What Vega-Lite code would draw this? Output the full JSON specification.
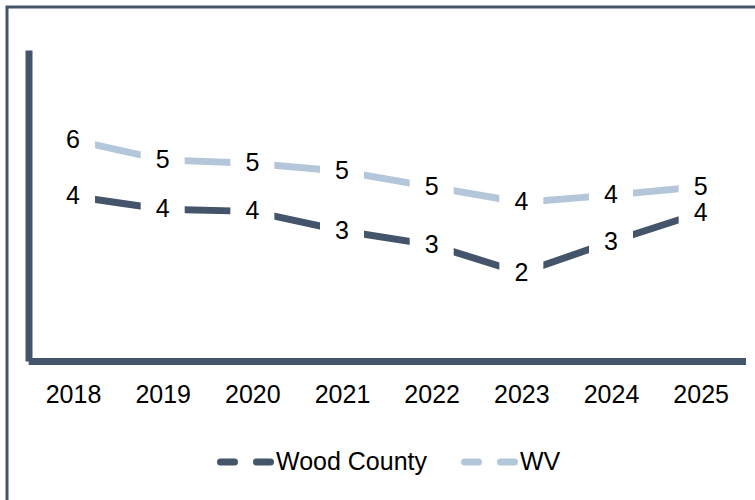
{
  "$schema": "https://vega.github.io/schema/vega-lite/v6.json",
  "width": 760,
  "height": 500,
  "autosize": {"type": "none"},
  "padding": {"left": 7, "top": 7, "right": 0, "bottom": 0},
  "background": "white",
  "config": {
    "view": {"stroke": "#44546A", "strokeWidth": 3, "fill": "white"},
    "font": "Liberation Sans"
  },
  "data": {
    "values": [
      {"year": "2018", "series": "Wood County", "value": 4.77, "label": "4"},
      {"year": "2019", "series": "Wood County", "value": 4.39, "label": "4"},
      {"year": "2020", "series": "Wood County", "value": 4.33, "label": "4"},
      {"year": "2021", "series": "Wood County", "value": 3.77, "label": "3"},
      {"year": "2022", "series": "Wood County", "value": 3.36, "label": "3"},
      {"year": "2023", "series": "Wood County", "value": 2.55, "label": "2"},
      {"year": "2024", "series": "Wood County", "value": 3.45, "label": "3"},
      {"year": "2025", "series": "Wood County", "value": 4.29, "label": "4"},
      {"year": "2018", "series": "WV", "value": 6.40, "label": "6"},
      {"year": "2019", "series": "WV", "value": 5.82, "label": "5"},
      {"year": "2020", "series": "WV", "value": 5.72, "label": "5"},
      {"year": "2021", "series": "WV", "value": 5.49, "label": "5"},
      {"year": "2022", "series": "WV", "value": 5.04, "label": "5"},
      {"year": "2023", "series": "WV", "value": 4.59, "label": "4"},
      {"year": "2024", "series": "WV", "value": 4.80, "label": "4"},
      {"year": "2025", "series": "WV", "value": 5.04, "label": "5"}
    ]
  },
  "encoding": {
    "x": {
      "field": "year",
      "type": "ordinal",
      "scale": {"type": "point", "range": [21.2, 738.5], "padding": 0.5},
      "axis": {
        "orient": "bottom",
        "offset": -146,
        "ticks": false,
        "grid": false,
        "title": null,
        "domainColor": "#44546A",
        "domainWidth": 7,
        "labelFontSize": 25,
        "labelColor": "black",
        "labelFont": "Liberation Sans",
        "labelPadding": 21,
        "labelAngle": 0
      }
    },
    "y": {
      "field": "value",
      "type": "quantitative",
      "scale": {"domain": [0, 9], "range": [354, 43], "nice": false},
      "axis": {
        "orient": "left",
        "offset": -21.5,
        "labels": false,
        "ticks": false,
        "grid": false,
        "title": null,
        "domainColor": "#44546A",
        "domainWidth": 7
      }
    }
  },
  "layer": [
    {
      "mark": {"type": "line", "strokeWidth": 7, "strokeCap": "butt"},
      "encoding": {
        "color": {
          "field": "series",
          "type": "nominal",
          "scale": {"domain": ["Wood County", "WV"], "range": ["#44546A", "#B4C7DA"]},
          "legend": {
            "orient": "none",
            "legendX": 210,
            "legendY": 426,
            "direction": "horizontal",
            "title": null,
            "symbolType": "stroke",
            "symbolSize": 2601,
            "symbolStrokeWidth": 7,
            "symbolDash": [14, 22],
            "labelFontSize": 25,
            "labelColor": "black",
            "labelFont": "Liberation Sans",
            "labelOffset": 1,
            "columnPadding": 22,
            "labelLimit": 400,
            "padding": 0,
            "encode": {
              "symbols": {
                "update": {
                  "strokeCap": {"value": "round"},
                  "strokeDash": {"value": [14, 22]},
                  "strokeWidth": {"value": 7}
                }
              }
            }
          }
        }
      }
    },
    {
      "mark": {
        "type": "point",
        "shape": "M-1,-0.6H1V0.6H-1Z",
        "filled": true,
        "fill": "white",
        "strokeWidth": 0,
        "opacity": 1,
        "size": 1936
      },
      "encoding": {"detail": {"field": "series", "type": "nominal"}}
    },
    {
      "mark": {
        "type": "text",
        "fontSize": 25,
        "fill": "black",
        "align": "center",
        "baseline": "middle",
        "font": "Liberation Sans"
      },
      "encoding": {"text": {"field": "label", "type": "nominal"}}
    }
  ]
}
